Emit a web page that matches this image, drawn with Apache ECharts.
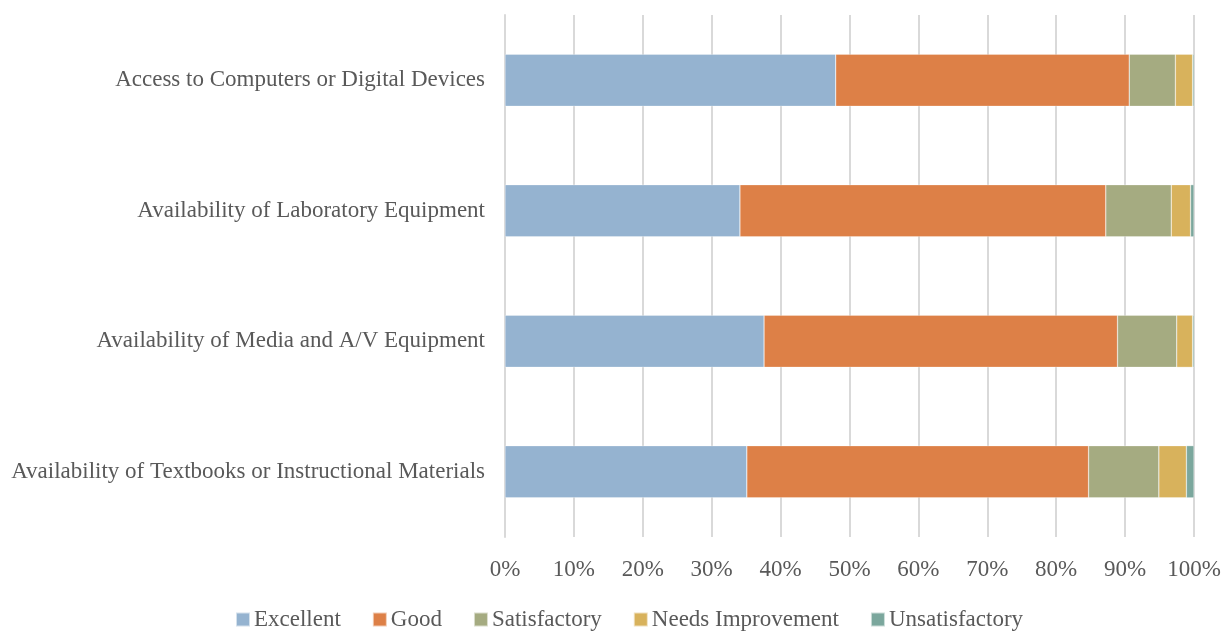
<!DOCTYPE html>
<html>
<head>
<meta charset="utf-8">
<script src="https://cdn.jsdelivr.net/npm/echarts@6/dist/echarts.min.js"></script>
<style>
  html, body { margin: 0; padding: 0; background: #fff; }
  #chart { width: 1225px; height: 631px; }
</style>
</head>
<body>
<div id="chart"></div>
<script>
// bottom to top, as the category axis draws them
const categories = [
  'Availability of Textbooks or Instructional Materials',
  'Availability of Media and A/V Equipment',
  'Availability of Laboratory Equipment',
  'Access to Computers or Digital Devices'
];
const excellent = [35.1, 37.6, 34.1, 48.0];
const good = [49.6, 51.3, 53.1, 42.6];
const satisfactory = [10.2, 8.6, 9.5, 6.7];
const needsImprovement = [4.0, 2.3, 2.8, 2.5];
const unsatisfactory = [1.1, 0.2, 0.5, 0.2];
const xTicks = [0, 10, 20, 30, 40, 50, 60, 70, 80, 90, 100];

const font = '"Liberation Serif", "DejaVu Serif", serif';
const textColor = '#595959';

function bar(name, data, color) {
  return {
    name: name,
    type: 'bar',
    stack: 'total',
    barCategoryGap: '60%',
    itemStyle: { color: color, borderColor: 'rgba(255,255,255,0.6)', borderWidth: 0.5 },
    data: data
  };
}

const chart = echarts.init(document.getElementById('chart'));
chart.setOption({
  animation: false,
  textStyle: { fontFamily: font },
  grid: { left: 505, right: 31, top: 15, bottom: 94 },
  legend: {
    top: 603,
    left: 230,
    itemWidth: 14,
    itemHeight: 14,
    itemGap: 31,
    icon: 'rect',
    textStyle: { fontFamily: font, fontSize: 23, color: textColor, padding: [0, 0, 0, -1] }
  },
  xAxis: {
    type: 'value',
    min: 0,
    max: 100,
    interval: 10,
    axisLine: { show: false },
    axisTick: { show: false },
    splitLine: { lineStyle: { color: '#d9d9d9', width: 2 } },
    axisLabel: {
      margin: 21,
      fontFamily: font,
      fontSize: 23,
      color: textColor,
      formatter: function (v) { return xTicks.indexOf(v) >= 0 ? v + '%' : ''; }
    }
  },
  yAxis: {
    type: 'category',
    data: categories,
    axisLine: { show: true, lineStyle: { color: '#d9d9d9', width: 2 } },
    axisTick: { show: false },
    axisLabel: { margin: 20, fontFamily: font, fontSize: 23, color: textColor }
  },
  series: [
    bar('Excellent', excellent, '#95b3d0'),
    bar('Good', good, '#dd8047'),
    bar('Satisfactory', satisfactory, '#a5ab81'),
    bar('Needs Improvement', needsImprovement, '#d8b25c'),
    bar('Unsatisfactory', unsatisfactory, '#7ba79d')
  ]
});
</script>
</body>
</html>
